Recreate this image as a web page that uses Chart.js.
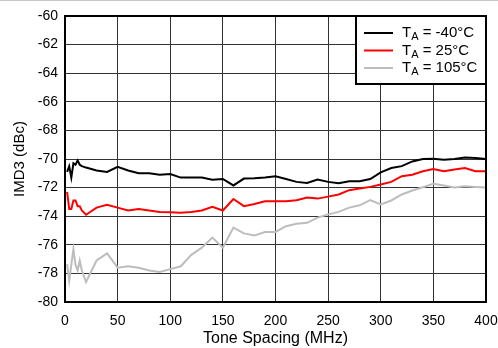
<!DOCTYPE html>
<html>
<head>
<meta charset="utf-8">
<script src="https://cdn.jsdelivr.net/npm/chart.js@4"></script>
<style>
    html, body { margin: 0; padding: 0; background: #fff; }
    #wrap { width: 498px; height: 348px; }
</style>
</head>
<body>
<div id="wrap"><canvas id="grafica" width="498" height="348"></canvas></div>
<script>
// Tone spacing (MHz)
var freq = [2, 4, 6, 8, 10, 12, 14, 16, 20, 30, 40, 50, 60, 70, 80, 90, 100, 110, 120, 130,
    140, 150, 160, 170, 180, 190, 200, 210, 220, 230, 240, 250, 260, 270, 280, 290,
    300, 310, 320, 330, 340, 350, 360, 370, 380, 390, 400];

// IMD3 (dBc) por temperatura
var imdM40 = [-70.9, -70.5, -71.3, -70.3, -70.4, -70.1, -70.4, -70.5, -70.6, -70.8, -70.9, -70.55,
    -70.8, -71.0, -71.0, -71.1, -71.05, -71.3, -71.3, -71.3, -71.45, -71.4, -71.85, -71.37,
    -71.35, -71.3, -71.2, -71.4, -71.6, -71.67, -71.44, -71.6, -71.7, -71.55, -71.55, -71.4,
    -70.93, -70.63, -70.5, -70.17, -70.0, -69.98, -70.05, -70.0, -69.9, -69.93, -70.0];

var imd25 = [-72.3, -73.5, -73.5, -72.9, -72.9, -73.3, -73.3, -73.6, -73.9, -73.4, -73.2, -73.4,
    -73.6, -73.5, -73.6, -73.7, -73.72, -73.75, -73.7, -73.6, -73.35, -73.6, -72.8, -73.3,
    -73.15, -72.95, -72.95, -72.95, -72.88, -72.7, -72.77, -72.63, -72.48, -72.18, -72.06, -71.95,
    -71.78, -71.6, -71.2, -71.1, -70.86, -70.7, -70.86, -70.74, -70.63, -70.86, -70.86];

var imd105 = [-77.35, -78.5, -77.4, -76.3, -77.4, -77.8, -77.1, -77.8, -78.6, -77.1, -76.6, -77.6,
    -77.5, -77.6, -77.8, -77.9, -77.7, -77.5, -76.7, -76.2, -75.5, -76.2, -74.8, -75.2,
    -75.35, -75.1, -75.1, -74.7, -74.53, -74.46, -74.1, -73.87, -73.7, -73.4, -73.24, -72.87,
    -73.17, -72.9, -72.48, -72.2, -71.97, -71.74, -71.85, -72.0, -71.9, -71.95, -72.0];

var etiquetas = ["-40°C", "25°C", "105°C"];
var colores = ["#000000", "#ff0000", "#bdbdbd"];

var fuente = "'Liberation Sans', Arial, sans-serif";

function puntos(valores) {
    return freq.map(function (f, i) { return { x: f, y: valores[i] }; });
}

var series = [imdM40, imd25, imd105];

// Marco del área, línea superior y leyenda con subíndice
var marcoPlugin = {
    id: "marco",
    afterDraw: function (chart) {
        var ctx = chart.ctx;
        var a = chart.chartArea;
        ctx.save();
        ctx.strokeStyle = "#c8c8c8";
        ctx.lineWidth = 1;
        ctx.beginPath();
        ctx.moveTo(0, 0.5);
        ctx.lineTo(498, 0.5);
        ctx.stroke();

        ctx.strokeStyle = "#000";
        ctx.lineWidth = 2;
        ctx.strokeRect(a.left, a.top, a.right - a.left, a.bottom - a.top);

        // leyenda
        var lx = 356, ly = a.top, lw = a.right - 356, lh = 68;
        ctx.fillStyle = "#fff";
        ctx.fillRect(lx, ly, lw, lh);
        ctx.strokeRect(lx, ly, lw, lh);
        for (var i = 0; i < etiquetas.length; i++) {
            var y = ly + 17 + i * 17.5;
            ctx.strokeStyle = colores[i];
            ctx.lineWidth = 2;
            ctx.beginPath();
            ctx.moveTo(364, y);
            ctx.lineTo(393, y);
            ctx.stroke();
            ctx.fillStyle = "#000";
            ctx.textBaseline = "middle";
            ctx.textAlign = "left";
            ctx.font = "15px " + fuente;
            ctx.fillText("T", 402, y);
            var wT = ctx.measureText("T").width;
            ctx.font = "11px " + fuente;
            ctx.fillText("A", 402 + wT, y + 4);
            var wA = ctx.measureText("A").width;
            ctx.font = "15px " + fuente;
            ctx.fillText(" = " + etiquetas[i], 402 + wT + wA, y);
        }
        ctx.restore();
    }
};

new Chart(document.getElementById("grafica"), {
    type: "line",
    data: {
        datasets: series.map(function (s, i) {
            return {
                label: "TA = " + etiquetas[i],
                data: puntos(s),
                borderColor: colores[i],
                backgroundColor: colores[i],
                borderWidth: 2,
                pointRadius: 0,
                tension: 0,
                fill: false
            };
        })
    },
    options: {
        responsive: false,
        animation: false,
        layout: { padding: { top: 16, right: 12, left: 0, bottom: 0 } },
        plugins: {
            legend: { display: false },
            tooltip: { enabled: false }
        },
        scales: {
            x: {
                type: "linear",
                min: 0,
                max: 400,
                grid: { color: "#333", lineWidth: 1, drawTicks: false },
                border: { display: false },
                ticks: {
                    stepSize: 50,
                    padding: 11,
                    color: "#000",
                    font: { family: fuente, size: 14 }
                },
                title: {
                    display: true,
                    text: "Tone Spacing (MHz)",
                    color: "#000",
                    padding: { top: 0, bottom: 0 },
                    font: { family: fuente, size: 16 }
                },
                afterFit: function (scale) {
                    scale.height = 46;
                    scale.paddingLeft = 0;
                    scale.paddingRight = 0;
                }
            },
            y: {
                min: -80,
                max: -60,
                grid: { color: "#333", lineWidth: 1, drawTicks: false },
                border: { display: false },
                ticks: {
                    stepSize: 2,
                    padding: 7,
                    color: "#000",
                    font: { family: fuente, size: 14 }
                },
                title: {
                    display: true,
                    text: "IMD3 (dBc)",
                    color: "#000",
                    padding: { top: 11, bottom: 0 },
                    font: { family: fuente, size: 15 }
                },
                afterFit: function (scale) {
                    scale.width = 65;
                    scale.paddingTop = 0;
                    scale.paddingBottom = 0;
                }
            }
        }
    },
    plugins: [marcoPlugin]
});
</script>
</body>
</html>
